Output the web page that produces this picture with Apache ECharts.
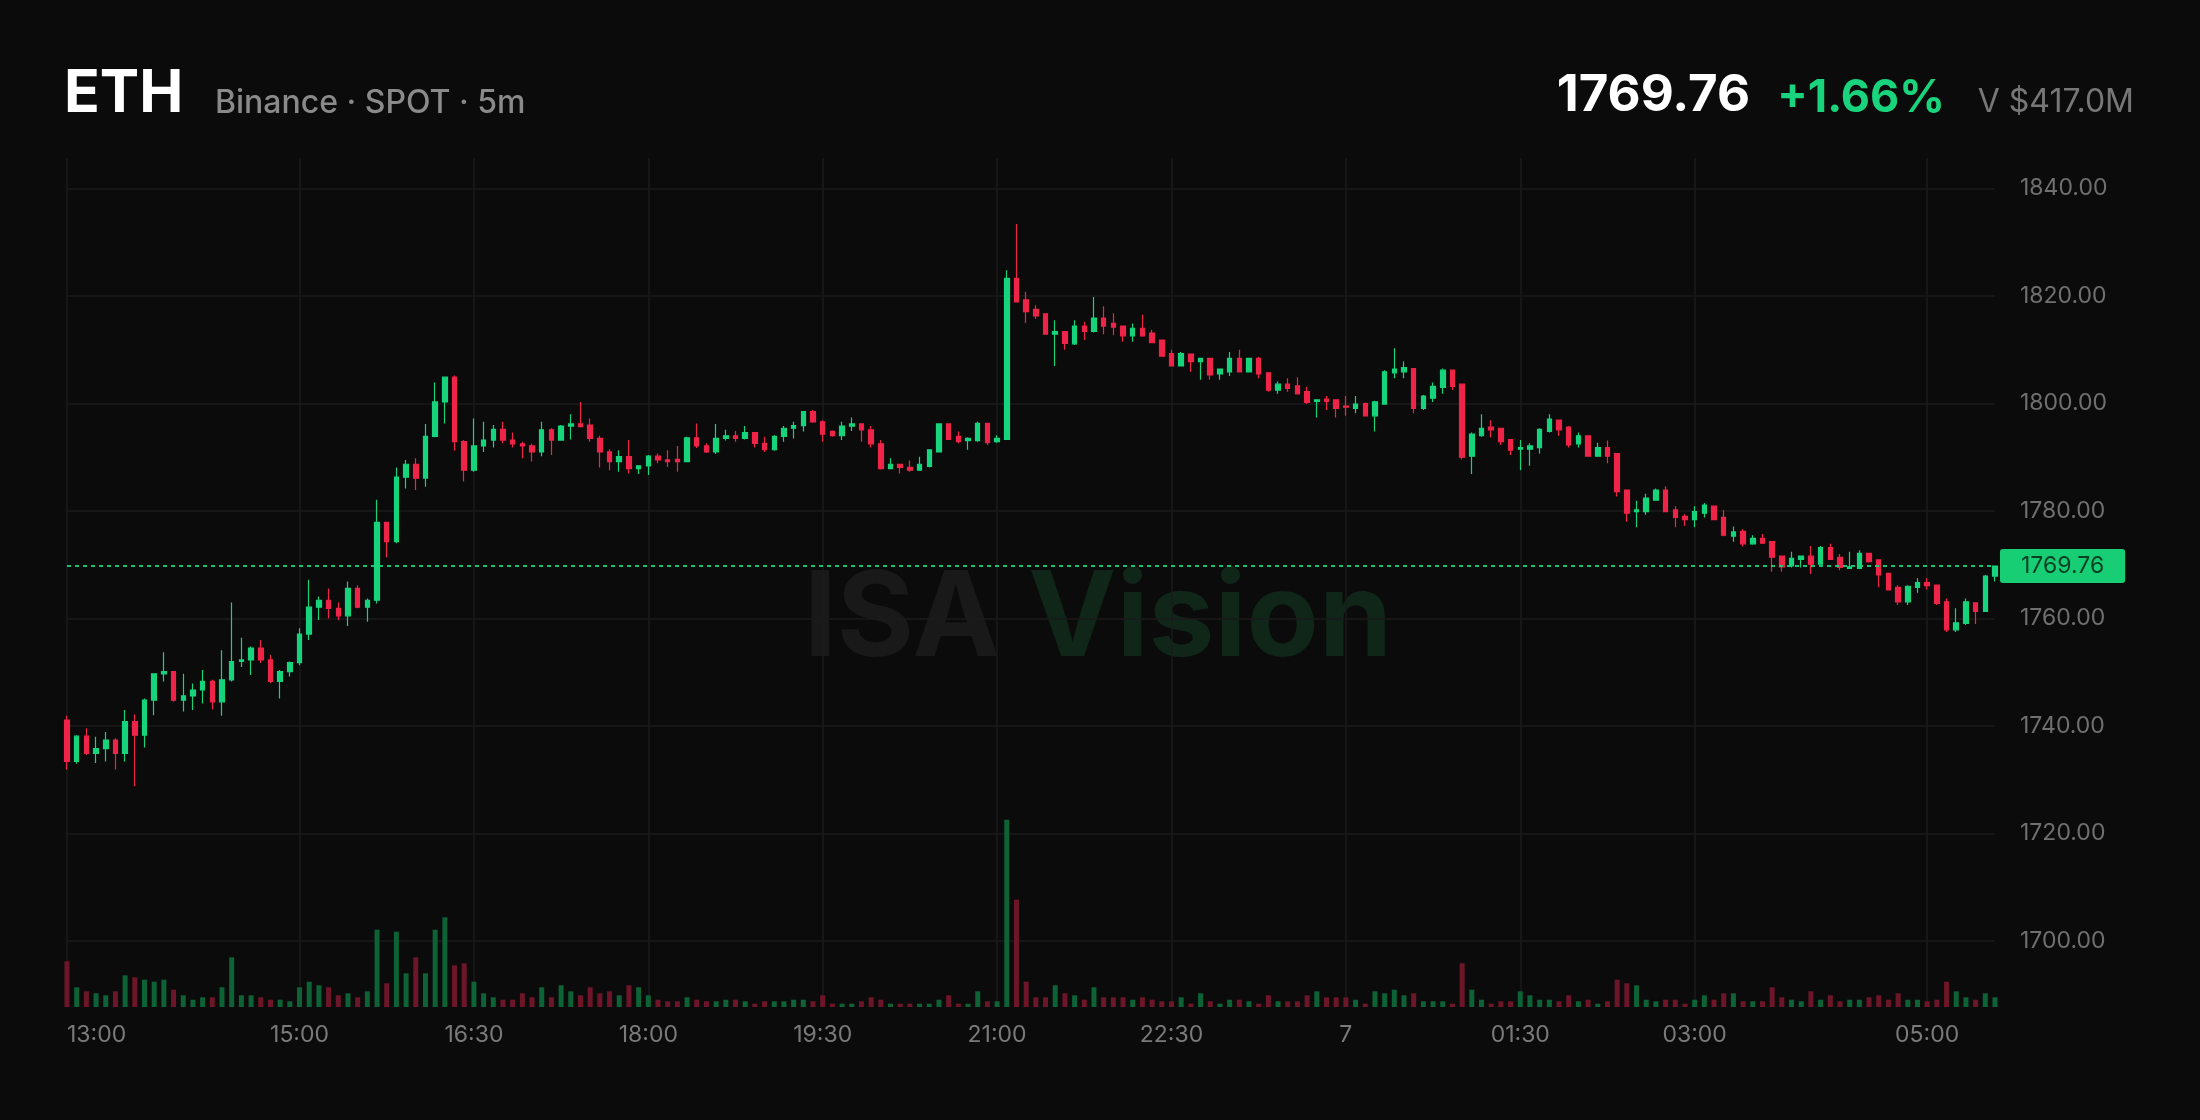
<!DOCTYPE html>
<html><head><meta charset="utf-8">
<script src="https://cdn.jsdelivr.net/npm/echarts@6/dist/echarts.min.js"></script>
<style>html,body{margin:0;padding:0;background:#0b0b0b;}#c{width:2200px;height:1120px;}</style>
</head><body><div id="c"></div>
<script>
// ---- data (ETH / Binance spot, 5m candles from 13:00) ----
const startMinutes = 13 * 60;
const stepMinutes = 5;
const opens = [
1741.1,1733.4,1738.1,1734.9,1735.8,1737.4,1734.9,1740.8,1738.3,1744.8,
1749.7,1750.1,1744.8,1745.6,1746.7,1748.3,1744.5,1748.6,1752.0,1752.3,
1754.5,1752.3,1748.3,1750.1,1751.8,1757.1,1762.1,1763.4,1761.9,1760.5,
1765.6,1762.1,1763.4,1777.9,1774.3,1786.3,1788.7,1786.1,1793.9,1800.3,
1804.9,1792.9,1787.6,1792.1,1793.2,1795.2,1793.2,1792.5,1792.1,1791.0,
1795.1,1793.2,1795.8,1796.2,1796.0,1793.5,1791.0,1789.2,1790.1,1787.9,
1788.4,1790.2,1789.5,1789.6,1789.2,1793.6,1792.1,1791.0,1793.5,1794.0,
1793.5,1794.6,1792.6,1791.4,1793.9,1795.4,1795.9,1798.5,1796.6,1794.8,
1794.0,1795.8,1796.2,1795.1,1792.5,1787.9,1788.7,1788.1,1787.6,1788.3,
1791.0,1796.2,1793.9,1793.1,1793.1,1796.3,1792.9,1793.3,1823.3,1819.3,
1817.5,1816.7,1812.9,1813.4,1811.1,1814.4,1813.4,1815.9,1814.9,1814.4,
1812.6,1814.0,1813.1,1811.8,1809.3,1807.0,1809.2,1807.8,1808.4,1805.5,
1805.9,1808.4,1805.9,1808.4,1805.7,1802.5,1803.6,1803.3,1802.2,1800.4,
1800.8,1800.7,1799.5,1799.1,1800.0,1797.7,1799.9,1805.7,1805.9,1806.5,
1799.1,1801.0,1803.0,1806.2,1803.6,1790.2,1794.0,1795.6,1795.4,1793.3,
1791.5,1791.5,1791.8,1794.8,1796.9,1795.6,1792.5,1794.0,1790.2,1791.8,
1790.7,1783.9,1779.9,1779.9,1782.0,1783.9,1780.2,1779.0,1778.4,1779.6,
1780.9,1778.8,1775.3,1776.2,1773.9,1774.9,1774.3,1771.6,1769.8,1771.0,
1771.6,1770.1,1773.2,1771.4,1769.3,1769.3,1772.1,1770.9,1768.4,1765.8,
1763.1,1765.8,1766.7,1766.2,1763.1,1757.9,1759.1,1762.9,1761.3,1767.9];
const closes = [
1733.4,1738.1,1734.9,1735.8,1737.4,1734.9,1740.8,1738.3,1744.8,1749.7,
1750.1,1744.8,1745.6,1746.7,1748.3,1744.5,1748.6,1752.0,1752.3,1754.5,
1752.3,1748.3,1750.1,1751.8,1757.1,1762.1,1763.4,1761.9,1760.5,1765.6,
1762.1,1763.4,1777.9,1774.3,1786.3,1788.7,1786.1,1793.9,1800.3,1804.9,
1792.9,1787.6,1792.1,1793.2,1795.2,1793.2,1792.5,1792.1,1791.0,1795.1,
1793.2,1795.8,1796.2,1795.7,1793.5,1791.0,1789.2,1790.1,1787.9,1788.4,
1790.2,1789.5,1789.2,1789.2,1793.6,1792.1,1791.0,1793.5,1794.0,1793.5,
1794.6,1792.6,1791.4,1793.9,1795.4,1795.9,1798.5,1796.6,1794.3,1794.0,
1795.8,1796.2,1795.1,1792.5,1787.9,1788.7,1788.1,1787.6,1788.7,1791.4,
1796.2,1793.3,1792.9,1793.5,1796.3,1792.7,1793.5,1823.3,1818.9,1817.1,
1816.3,1812.9,1813.4,1811.2,1814.4,1813.4,1815.9,1814.4,1814.2,1812.6,
1814.0,1812.6,1811.3,1808.8,1807.0,1809.3,1807.8,1808.4,1805.3,1806.4,
1808.4,1805.9,1808.4,1805.5,1802.5,1803.6,1802.8,1801.8,1800.2,1800.7,
1800.4,1799.1,1799.3,1799.9,1797.7,1800.3,1805.9,1806.4,1806.7,1799.1,
1801.4,1803.2,1806.2,1803.2,1790.0,1794.3,1795.4,1795.1,1792.9,1791.3,
1791.8,1792.1,1795.2,1797.1,1795.1,1792.3,1794.0,1790.2,1791.8,1790.2,
1783.6,1779.6,1780.2,1782.4,1783.9,1779.9,1778.8,1778.4,1779.9,1781.1,
1778.4,1775.5,1776.1,1773.9,1774.9,1774.0,1771.4,1769.6,1771.2,1771.6,
1770.1,1773.2,1771.0,1769.5,1769.6,1772.1,1770.6,1768.1,1765.3,1763.1,
1766.0,1766.7,1766.1,1762.8,1757.9,1759.2,1763.1,1761.3,1767.9,1769.76];
const lows = [
1731.9,1733.0,1734.6,1733.1,1733.4,1731.9,1733.4,1728.8,1736.0,1742.0,
1748.3,1744.5,1742.7,1743.0,1744.2,1743.1,1741.9,1748.3,1751.0,1749.5,
1751.7,1748.0,1745.1,1749.2,1751.3,1756.0,1759.7,1760.0,1759.7,1758.6,
1761.9,1759.4,1762.8,1771.4,1774.0,1784.2,1783.9,1784.5,1793.7,1796.3,
1791.2,1785.5,1787.3,1791.0,1791.8,1792.6,1791.8,1789.8,1789.2,1790.2,
1790.4,1793.1,1793.3,1795.7,1792.9,1788.1,1787.6,1787.3,1787.0,1786.9,
1786.7,1788.9,1788.2,1787.3,1789.2,1791.7,1790.8,1790.6,1793.1,1792.9,
1793.3,1791.8,1791.0,1791.2,1792.9,1793.5,1794.8,1796.4,1792.9,1793.8,
1793.2,1794.9,1792.9,1791.8,1787.7,1787.9,1787.0,1787.3,1787.6,1788.1,
1790.9,1793.2,1792.6,1791.4,1792.9,1792.3,1792.7,1793.2,1818.8,1815.0,
1815.7,1812.9,1807.0,1810.0,1810.9,1811.8,1813.2,1812.9,1812.7,1811.5,
1811.5,1812.4,1811.3,1808.8,1806.9,1806.9,1805.9,1804.4,1804.4,1804.4,
1805.1,1805.9,1805.9,1804.7,1802.2,1801.8,1802.2,1801.8,1799.9,1797.4,
1798.8,1797.4,1797.7,1798.2,1797.6,1794.8,1799.9,1804.7,1804.7,1798.2,
1798.8,1800.3,1801.8,1802.5,1789.6,1786.9,1793.8,1793.7,1792.3,1790.4,
1787.6,1788.4,1790.7,1794.6,1794.0,1791.8,1791.8,1790.2,1790.1,1788.9,
1782.7,1778.0,1777.0,1779.3,1781.9,1779.9,1777.0,1777.2,1777.0,1778.8,
1778.3,1775.3,1774.3,1773.4,1773.7,1773.9,1768.7,1768.7,1769.5,1769.5,
1768.3,1770.1,1770.9,1769.0,1769.2,1769.2,1770.4,1765.8,1765.2,1762.5,
1762.5,1764.8,1765.4,1762.5,1757.5,1757.5,1758.8,1759.0,1761.3,1766.9];
const highs = [
1741.9,1738.3,1739.6,1738.0,1738.9,1737.7,1743.0,1742.2,1745.1,1749.8,
1753.7,1750.2,1749.7,1747.9,1750.4,1748.6,1754.1,1763.0,1756.4,1754.8,
1756.0,1753.2,1750.4,1752.0,1758.2,1767.2,1764.1,1765.6,1763.0,1766.9,
1766.2,1763.7,1782.1,1777.9,1788.1,1789.5,1789.8,1796.2,1803.9,1804.9,
1805.2,1793.2,1797.2,1796.6,1796.0,1796.6,1794.6,1792.9,1792.5,1796.6,
1795.4,1796.0,1798.0,1800.3,1797.2,1794.0,1791.5,1791.3,1793.2,1788.5,
1790.4,1790.7,1791.3,1792.1,1793.8,1796.3,1792.6,1796.2,1795.1,1794.9,
1795.8,1794.6,1793.8,1794.1,1795.8,1796.6,1798.5,1798.8,1796.9,1795.0,
1796.6,1797.4,1796.2,1795.8,1793.2,1789.8,1788.7,1789.4,1790.1,1791.5,
1796.3,1796.2,1794.8,1793.7,1796.6,1796.3,1794.1,1824.8,1833.4,1820.8,
1818.3,1816.7,1815.5,1813.4,1815.5,1815.2,1819.8,1818.1,1816.8,1814.4,
1814.9,1816.5,1813.7,1811.9,1810.0,1809.6,1809.2,1808.4,1808.4,1806.5,
1809.6,1810.0,1808.4,1808.7,1805.7,1804.1,1804.7,1804.9,1803.1,1800.7,
1801.4,1800.7,1801.4,1801.4,1800.2,1800.5,1806.2,1810.3,1807.8,1806.5,
1801.6,1803.9,1806.5,1806.2,1803.6,1794.6,1798.0,1796.9,1795.4,1793.3,
1793.2,1792.6,1795.4,1798.0,1796.9,1795.8,1794.6,1794.0,1792.7,1793.1,
1790.7,1783.9,1781.9,1783.2,1784.2,1784.6,1780.9,1779.4,1780.9,1781.5,
1780.9,1780.2,1777.1,1776.6,1775.5,1775.7,1774.3,1771.6,1772.4,1771.6,
1773.5,1773.5,1773.9,1772.0,1772.4,1772.7,1772.1,1770.9,1768.4,1766.2,
1766.2,1767.5,1767.5,1766.2,1763.7,1761.9,1763.7,1762.9,1768.1,1769.8];
const volumes = [
45.7,19.7,15.7,13.7,11.7,15.7,31.7,29.7,27.3,25.3,
27.3,17.3,11.7,7.3,9.7,9.7,19.7,49.7,11.7,11.7,
9.7,7.3,7.3,5.7,19.7,25.3,21.7,19.7,11.7,13.7,
9.7,15.7,77.3,23.7,75.3,33.7,49.7,33.7,77.3,89.7,
41.7,43.7,25.3,13.7,9.7,7.3,7.3,13.7,9.7,19.7,
9.7,21.7,15.7,11.7,19.7,13.7,15.7,11.7,21.7,19.7,
11.7,7.3,5.7,5.7,9.7,7.3,5.7,5.7,7.3,7.3,
5.7,3.3,5.7,5.7,5.7,7.3,7.3,5.7,11.7,3.3,
3.3,3.3,5.7,9.7,7.3,3.3,3.3,3.3,3.3,3.3,
7.3,11.7,3.3,3.3,15.7,5.7,5.7,187.3,107.3,25.3,
9.7,9.7,21.7,13.7,11.7,7.3,19.7,9.7,9.7,9.7,
7.3,9.7,7.3,5.7,5.7,9.7,3.3,13.7,5.7,3.3,
7.3,7.3,5.7,3.3,11.7,5.7,5.7,5.7,11.7,15.7,
9.7,9.7,9.7,7.3,3.3,15.7,13.7,17.3,11.7,13.7,
5.7,5.7,5.7,3.3,43.7,17.3,7.3,3.3,5.7,5.7,
15.7,11.7,7.3,7.3,5.7,11.7,5.7,7.3,3.3,5.7,
27.3,23.7,21.7,7.3,5.7,7.3,7.3,3.3,7.3,11.7,
7.3,13.7,13.7,5.7,5.7,5.7,19.7,9.7,7.3,5.7,
15.7,7.3,11.7,5.7,7.3,7.3,9.7,11.7,7.3,13.7,
7.3,7.3,5.7,7.3,25.3,15.7,9.7,7.3,13.7,9.7];
const tickTimes  = ['13:00','15:00','16:30','18:00','19:30','21:00','22:30','00:00','01:30','03:00','05:00'];
const tickLabels = ['13:00','15:00','16:30','18:00','19:30','21:00','22:30','7','01:30','03:00','05:00'];
const priceTicks = [1700, 1720, 1740, 1760, 1780, 1800, 1820, 1840];
const lastPrice = 1769.76;
const header = { symbol: 'ETH', sub: 'Binance · SPOT · 5m', price: '1769.76', change: '+1.66%', vol: 'V $417.0M' };

// ---- build ----
const pad = n => String(n).padStart(2, '0');
const times = opens.map((_, i) => {
  const m = (startMinutes + stepMinutes * i) % 1440;
  return pad(Math.floor(m / 60)) + ':' + pad(m % 60);
});
const candleData = opens.map((o, i) => [o, closes[i], lows[i], highs[i]]);
const UP = '#17d47c', DOWN = '#ef2449';
const volData = volumes.map((v, i) => ({
  value: v,
  itemStyle: { color: closes[i] >= opens[i] ? '#0d6236' : '#6e1629' }
}));
const isTick = (idx, val) => tickTimes.indexOf(times[idx]) >= 0;
const GRID = '#1b1b1b';
const FONT = 'Inter, "Noto Sans", sans-serif';

const chart = echarts.init(document.getElementById('c'), null, { renderer: 'canvas' });
chart.setOption({
  backgroundColor: '#0b0b0b',
  animation: false,
  graphic: [
    { type: 'text', z: 0, style: { x: 1098, y: 621, align: 'center', verticalAlign: 'middle',
      text: '{a|ISA }{b|Vision}',
      rich: { a: { fill: '#191919', fontSize: 118, fontWeight: 700, fontFamily: FONT },
              b: { fill: '#0f2619', fontSize: 118, fontWeight: 700, fontFamily: FONT } } } },
    { type: 'text', style: { x: 64, y: 94, text: header.symbol, fill: '#ffffff', align: 'left', verticalAlign: 'middle',
      font: '700 59px ' + FONT } },
    { type: 'text', style: { x: 215, y: 103, text: header.sub, fill: '#8a8a8a', align: 'left', verticalAlign: 'middle',
      font: '500 32px ' + FONT } },
    { type: 'text', style: { x: 1750, y: 96, text: header.price, fill: '#ffffff', align: 'right', verticalAlign: 'middle',
      font: '700 51px ' + FONT } },
    { type: 'text', style: { x: 1945, y: 98, text: header.change, fill: '#19d47c', align: 'right', verticalAlign: 'middle',
      font: '700 45px ' + FONT } },
    { type: 'text', style: { x: 2134, y: 102, text: header.vol, fill: '#777777', align: 'right', verticalAlign: 'middle',
      font: '400 32px ' + FONT } }
  ],
  grid: [
    { left: 67, right: 205, top: 81, bottom: 71.5, containLabel: false },
    { left: 67, right: 205, top: 158, bottom: 113, containLabel: false }
  ],
  xAxis: [
    { type: 'category', gridIndex: 0, data: times, boundaryGap: false, show: false },
    { type: 'category', gridIndex: 1, data: times, boundaryGap: false,
      axisLine: { show: false }, axisTick: { show: false },
      axisLabel: { interval: isTick, formatter: v => tickLabels[tickTimes.indexOf(v)] || '',
        color: '#7a7a7a', fontSize: 23, fontFamily: FONT, margin: 17, alignMinLabel: 'left' },
      splitLine: { show: true, interval: isTick, lineStyle: { color: GRID, width: 1.5 } } }
  ],
  yAxis: [
    { type: 'value', gridIndex: 0, position: 'right', min: 1680, max: 1860, interval: 20, scale: true,
      axisLine: { show: false }, axisTick: { show: false },
      axisLabel: { color: '#707070', fontSize: 23, fontFamily: FONT, margin: 25, showMinLabel: false, showMaxLabel: false,
        formatter: v => priceTicks.indexOf(v) >= 0 ? v.toFixed(2) : '' },
      splitLine: { show: true, showMinLine: false, showMaxLine: false, lineStyle: { color: GRID, width: 1.5 } } },
    { type: 'value', gridIndex: 1, min: 0, max: 849, show: false, splitLine: { show: false } }
  ],
  series: [
    { type: 'bar', name: 'Volume', xAxisIndex: 1, yAxisIndex: 1, data: volData, barWidth: 5, clip: false, z: 1 },
    { type: 'candlestick', name: 'ETH', xAxisIndex: 0, yAxisIndex: 0, data: candleData, barWidth: 5, clip: false, z: 3,
      itemStyle: { color: UP, color0: DOWN, borderColor: UP, borderColor0: DOWN, borderWidth: 1.2 },
      markLine: { silent: true, symbol: ['none', 'none'], animation: false,
        data: [{ yAxis: lastPrice }],
        lineStyle: { color: '#1bd47c', type: [4, 4], width: 1.8, opacity: 0.9 },
        label: { show: true, position: 'end', distance: 5, formatter: lastPrice.toFixed(2),
          backgroundColor: '#1ae381', color: '#08301b', fontSize: 23, fontFamily: FONT,
          padding: [6, 21, 5, 21], borderRadius: 3 } } }
  ]
});
</script></body></html>
